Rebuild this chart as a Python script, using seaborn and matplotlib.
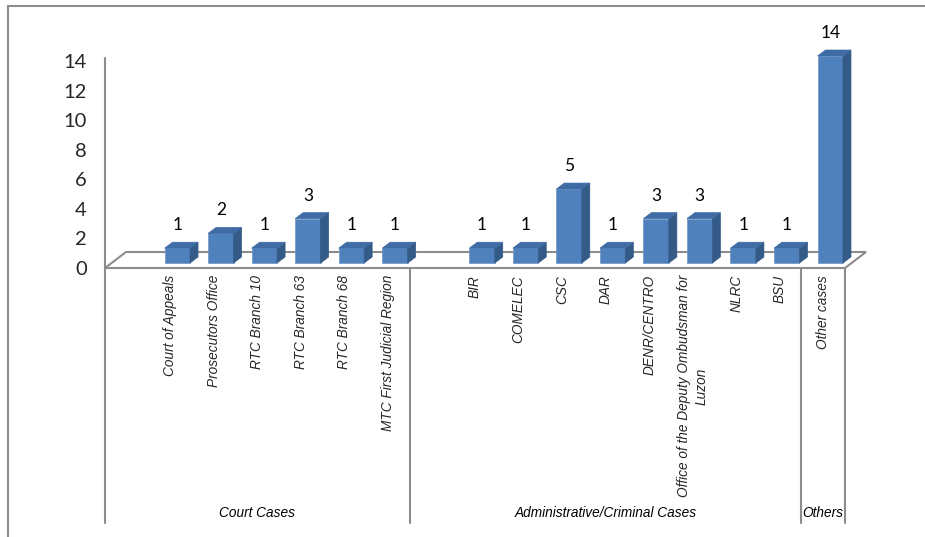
import pandas as pd
import matplotlib.pyplot as plt
import seaborn as sns
import numpy as np
from matplotlib.transforms import ScaledTranslation, blended_transform_factory
from matplotlib.patches import Polygon
from matplotlib.lines import Line2D

# Chart data (blank slots separate the groups like in the original)
categories = [' ', 'Court of Appeals', 'Prosecutors Office', 'RTC Branch 10', 'RTC Branch 63',
              'RTC Branch 68', 'MTC First Judicial Region', '  ', 'BIR', 'COMELEC', 'CSC', 'DAR',
              'DENR/CENTRO', 'Office of the Deputy Ombudsman for\nLuzon', 'NLRC', 'BSU', 'Other cases']
cases = [0, 1, 2, 1, 3, 1, 1, 0, 1, 1, 5, 1, 3, 3, 1, 1, 14]
groups = ['Court Cases', 'Administrative/Criminal Cases', 'Others']
group_sizes = [7, 9, 1]
y_ticks = [0, 2, 4, 6, 8, 10, 12, 14]

df = pd.DataFrame({'category': categories, 'cases': cases})

sns.set_theme(style='white')
plt.rcParams['font.family'] = ['Lato', 'DejaVu Sans']
narrow = ['Liberation Sans', 'DejaVu Sans']

FRONT = '#4F81BD'
TOP = '#3F6CA5'
SIDE = '#345A88'
GRID = '#8C8C8C'

W, H, DPI = 925, 537, 100
fig = plt.figure(figsize=(W / DPI, H / DPI), dpi=DPI)
ax = fig.add_axes([105 / W, (H - 268) / H, 740 / W, 207 / H])

n = len(categories)
ax.set_xlim(-0.5, n - 0.5)
ax.set_ylim(0, 14)
px_x = 740 / n       # pixels per category slot
px_y = 207 / 14      # pixels per unit

# bars sit a bit behind the front plane of the floor
bar_tr = ax.transData + ScaledTranslation(7 / DPI, 5 / DPI, fig.dpi_scale_trans)

sns.barplot(data=df, x='category', y='cases', order=categories, color=FRONT,
            saturation=1, width=0.585, ax=ax, zorder=3)

ddx, ddy = 8 / px_x, 6 / px_y
for patch, val in zip(ax.patches, cases):
    patch.set_transform(bar_tr)
    patch.set_clip_on(False)
    patch.set_edgecolor('#6E94C8')
    patch.set_linewidth(0.5)
    if val == 0:
        patch.set_visible(False)
        continue
    x0 = patch.get_x()
    x1 = x0 + patch.get_width()
    h = patch.get_height()
    side = Polygon([(x1, 0), (x1 + ddx, ddy), (x1 + ddx, h + ddy), (x1, h)],
                   closed=True, facecolor=SIDE, edgecolor=SIDE, lw=0.5,
                   transform=bar_tr, clip_on=False, zorder=3)
    top = Polygon([(x0, h), (x1, h), (x1 + ddx, h + ddy), (x0 + ddx, h + ddy)],
                  closed=True, facecolor=TOP, edgecolor=TOP, lw=0.5,
                  transform=bar_tr, clip_on=False, zorder=3)
    ax.add_patch(side)
    ax.add_patch(top)
    ax.text((x0 + x1) / 2, h, str(val), transform=bar_tr + ScaledTranslation(0, 15 / DPI, fig.dpi_scale_trans),
            ha='center', va='bottom', fontsize=12.5, color='black', zorder=4)

# floor of the 3D chart
fdx, fdy = 21 / px_x, 16 / px_y
floor = Polygon([(-0.5, 0), (n - 0.5, 0), (n - 0.5 + fdx, fdy), (-0.5 + fdx, fdy)],
                closed=True, facecolor='white', edgecolor=GRID, lw=1.5, clip_on=False, zorder=1)
ax.add_patch(floor)
ax.plot([-0.5, -0.5], [0, 14.2], color=GRID, lw=1.5, clip_on=False, zorder=2)

# group dividers and group labels below the category labels
bt = blended_transform_factory(ax.transData, ax.transAxes)
bounds = np.concatenate([[0], np.cumsum(group_sizes)]) - 0.5
for b in bounds:
    ax.plot([b, b], [0, -255 / 207], color=GRID, lw=1.5, transform=bt, clip_on=False)
for g, lo, hi in zip(groups, bounds[:-1], bounds[1:]):
    ax.text((lo + hi) / 2, -245 / 207, g, transform=bt, ha='center', va='center',
            fontsize=9.8, fontstyle='italic', family=narrow, color='black')

ax.set_yticks(y_ticks)
ax.set_yticklabels([str(t) for t in y_ticks], fontsize=14.5)
ax.set_xticks(range(n))
ax.set_xticklabels(categories, rotation=90, fontsize=9.8, fontstyle='italic',
                   family=narrow, multialignment='center', linespacing=1.35)
ax.tick_params(axis='x', length=0, pad=5)
ax.tick_params(axis='y', length=0, pad=13)
ax.set_xlabel('')
ax.set_ylabel('')
for s in ax.spines.values():
    s.set_visible(False)
ax.patch.set_alpha(0)

# chart area border (cropped on the right and bottom)
fig.add_artist(Line2D([8 / W, 8 / W], [0, 1 - 6 / H], color=GRID, lw=1.5, transform=fig.transFigure))
fig.add_artist(Line2D([8 / W, 1], [1 - 6 / H, 1 - 6 / H], color=GRID, lw=1.5, transform=fig.transFigure))

fig.savefig('out.png', dpi=DPI)
